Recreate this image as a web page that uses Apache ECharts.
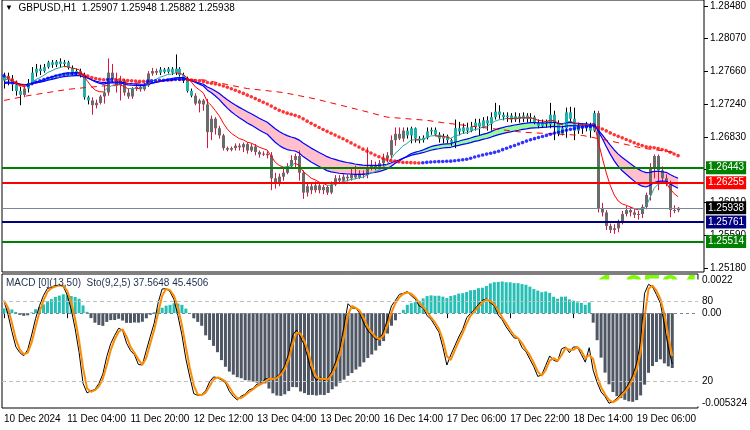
<!DOCTYPE html>
<html>
<head>
<meta charset="utf-8">
<script src="https://cdn.jsdelivr.net/npm/echarts@6/dist/echarts.min.js"></script>
<style>
html, body { margin: 0; padding: 0; background: #fff; }
#chart { width: 750px; height: 430px; }
</style>
</head>
<body>
<div id="chart"></div>
<script>
// GBPUSD H1, 170 bars from 10 Dec 12:00 to 19 Dec 15:00
const tickLabels = ["10 Dec 2024", "11 Dec 04:00", "11 Dec 20:00", "12 Dec 12:00", "13 Dec 04:00", "13 Dec 20:00",
  "16 Dec 14:00", "17 Dec 06:00", "17 Dec 22:00", "18 Dec 14:00", "19 Dec 06:00"];

const openP = [
  1.2754,1.2760,1.2756,1.2749,1.2741,1.2736,1.2744,1.2751,1.2764,1.2769,
  1.2766,1.2771,1.2777,1.2774,1.2778,1.2775,1.2777,1.2770,1.2764,1.2766,
  1.2761,1.2733,1.2729,1.2723,1.2726,1.2734,1.2739,1.2764,1.2756,1.2748,
  1.2754,1.2739,1.2734,1.2744,1.2746,1.2743,1.2748,1.2763,1.2766,1.2764,
  1.2768,1.2765,1.2769,1.2764,1.2769,1.2761,1.2756,1.2741,1.2735,1.2725,
  1.2729,1.2724,1.2689,1.2706,1.2694,1.2685,1.2669,1.2667,1.2669,1.2672,
  1.2670,1.2674,1.2666,1.2671,1.2664,1.2661,1.2662,1.2660,1.2631,1.2626,
  1.2633,1.2638,1.2646,1.2654,1.2659,1.2638,1.2613,1.2621,1.2616,1.2622,
  1.2616,1.2620,1.2613,1.2623,1.2631,1.2628,1.2633,1.2631,1.2636,1.2632,
  1.2637,1.2635,1.2644,1.2647,1.2645,1.2650,1.2656,1.2660,1.2679,1.2687,
  1.2681,1.2691,1.2685,1.2694,1.2681,1.2679,1.2682,1.2690,1.2692,1.2686,
  1.2681,1.2684,1.2679,1.2676,1.2694,1.2690,1.2695,1.2691,1.2696,1.2701,
  1.2696,1.2704,1.2700,1.2708,1.2715,1.2711,1.2708,1.2710,1.2705,1.2709,
  1.2706,1.2710,1.2706,1.2708,1.2701,1.2697,1.2701,1.2699,1.2711,1.2701,
  1.2687,1.2694,1.2714,1.2706,1.2691,1.2697,1.2694,1.2699,1.2691,1.2713,
  1.2593,1.2588,1.2571,1.2566,1.2568,1.2576,1.2586,1.2591,1.2588,1.2585,
  1.2586,1.2595,1.2610,1.2645,1.2659,1.2641,1.2631,1.2626,1.2591,1.25907
];
const highP = [
  1.2764,1.2764,1.2761,1.2754,1.2746,1.2748,1.2756,1.2771,1.2775,1.2774,
  1.2775,1.2779,1.2780,1.2780,1.2782,1.2780,1.2779,1.2773,1.2769,1.2769,
  1.2764,1.2735,1.2733,1.2730,1.2736,1.2748,1.2782,1.2775,1.2764,1.2760,
  1.2756,1.2744,1.2746,1.2750,1.2749,1.2751,1.2766,1.2770,1.2769,1.2771,
  1.2770,1.2771,1.2771,1.2787,1.2771,1.2764,1.2759,1.2744,1.2738,1.2731,
  1.2731,1.2731,1.2710,1.2708,1.2697,1.2687,1.2671,1.2671,1.2675,1.2675,
  1.2676,1.2676,1.2675,1.2674,1.2666,1.2665,1.2665,1.2664,1.2638,1.2637,
  1.2644,1.2650,1.2660,1.2662,1.2666,1.2641,1.2626,1.2625,1.2627,1.2625,
  1.2623,1.2622,1.2627,1.2635,1.2635,1.2636,1.2636,1.2644,1.2647,1.2641,
  1.2641,1.2670,1.2654,1.2652,1.2654,1.2662,1.2664,1.2685,1.2695,1.2695,
  1.2695,1.2695,1.2696,1.2695,1.2684,1.2685,1.2695,1.2695,1.2695,1.2689,
  1.2687,1.2686,1.2681,1.2705,1.2702,1.2700,1.2701,1.2702,1.2706,1.2706,
  1.2708,1.2709,1.2714,1.2726,1.2723,1.2714,1.2714,1.2713,1.2714,1.2713,
  1.2714,1.2713,1.2713,1.2710,1.2705,1.2705,1.2705,1.2726,1.2716,1.2704,
  1.2697,1.2720,1.2721,1.2720,1.2701,1.2700,1.2702,1.2701,1.2716,1.2716,
  1.2600,1.2591,1.2574,1.2573,1.2579,1.2590,1.2596,1.2595,1.2592,1.2590,
  1.2598,1.2613,1.2650,1.2661,1.2661,1.2646,1.2636,1.2628,1.2597,1.25948
];
const lowP = [
  1.2744,1.2748,1.2741,1.2735,1.2723,1.2733,1.2739,1.2749,1.2759,1.2761,
  1.2764,1.2769,1.2770,1.2771,1.2770,1.2771,1.2768,1.2761,1.2760,1.2758,
  1.2730,1.2724,1.2711,1.2719,1.2724,1.2725,1.2735,1.2751,1.2739,1.2729,
  1.2735,1.2731,1.2731,1.2741,1.2740,1.2741,1.2746,1.2760,1.2761,1.2761,
  1.2763,1.2763,1.2761,1.2761,1.2759,1.2751,1.2739,1.2733,1.2723,1.2714,
  1.2716,1.2669,1.2679,1.2686,1.2681,1.2666,1.2665,1.2665,1.2666,1.2666,
  1.2664,1.2662,1.2664,1.2660,1.2657,1.2659,1.2656,1.2616,1.2618,1.2621,
  1.2628,1.2636,1.2644,1.2644,1.2628,1.2605,1.2608,1.2611,1.2613,1.2612,
  1.2611,1.2610,1.2611,1.2621,1.2625,1.2626,1.2627,1.2628,1.2630,1.2630,
  1.2631,1.2631,1.2641,1.2641,1.2642,1.2646,1.2651,1.2656,1.2672,1.2679,
  1.2677,1.2681,1.2675,1.2676,1.2675,1.2676,1.2680,1.2686,1.2684,1.2676,
  1.2675,1.2675,1.2672,1.2669,1.2685,1.2687,1.2687,1.2689,1.2691,1.2685,
  1.2694,1.2691,1.2691,1.2705,1.2706,1.2704,1.2702,1.2701,1.2702,1.2701,
  1.2702,1.2701,1.2702,1.2699,1.2694,1.2695,1.2695,1.2694,1.2679,1.2684,
  1.2685,1.2682,1.2701,1.2679,1.2687,1.2687,1.2690,1.2682,1.2689,1.2588,
  1.2583,1.2566,1.2562,1.2561,1.2563,1.2573,1.2583,1.2583,1.2581,1.2579,
  1.2581,1.2592,1.2603,1.2631,1.2616,1.2626,1.2621,1.2582,1.2587,1.25882
];
const closeP = [
  1.2760,1.2756,1.2749,1.2741,1.2736,1.2744,1.2751,1.2764,1.2769,1.2766,
  1.2771,1.2777,1.2774,1.2778,1.2775,1.2777,1.2770,1.2764,1.2766,1.2761,
  1.2733,1.2729,1.2723,1.2726,1.2734,1.2739,1.2764,1.2756,1.2748,1.2754,
  1.2739,1.2734,1.2744,1.2746,1.2743,1.2748,1.2763,1.2766,1.2764,1.2768,
  1.2765,1.2769,1.2764,1.2769,1.2761,1.2756,1.2741,1.2735,1.2725,1.2729,
  1.2724,1.2689,1.2706,1.2694,1.2685,1.2669,1.2667,1.2669,1.2672,1.2670,
  1.2674,1.2666,1.2671,1.2664,1.2661,1.2662,1.2660,1.2631,1.2626,1.2633,
  1.2638,1.2646,1.2654,1.2659,1.2638,1.2613,1.2621,1.2616,1.2622,1.2616,
  1.2620,1.2613,1.2623,1.2631,1.2628,1.2633,1.2631,1.2636,1.2632,1.2637,
  1.2635,1.2644,1.2647,1.2645,1.2650,1.2656,1.2660,1.2679,1.2687,1.2681,
  1.2691,1.2685,1.2694,1.2681,1.2679,1.2682,1.2690,1.2692,1.2686,1.2681,
  1.2684,1.2679,1.2676,1.2694,1.2690,1.2695,1.2691,1.2696,1.2701,1.2696,
  1.2704,1.2700,1.2708,1.2715,1.2711,1.2708,1.2710,1.2705,1.2709,1.2706,
  1.2710,1.2706,1.2708,1.2701,1.2697,1.2701,1.2699,1.2711,1.2701,1.2687,
  1.2694,1.2714,1.2706,1.2691,1.2697,1.2694,1.2699,1.2691,1.2713,1.2593,
  1.2588,1.2571,1.2566,1.2568,1.2576,1.2586,1.2591,1.2588,1.2585,1.2586,
  1.2595,1.2610,1.2645,1.2659,1.2641,1.2631,1.2626,1.2591,1.2591,1.25938
];

// long dashed MA at these bars
const longMaBars = [0, 6, 16, 20, 33, 45, 50, 56, 61, 70, 78, 90, 96, 106, 110, 130, 145, 152, 160, 169];
const longMaVals = [1.2729, 1.2735, 1.2743, 1.2745, 1.2751, 1.2755, 1.2755, 1.2749, 1.2744, 1.2739,
  1.2731, 1.2716, 1.2708, 1.2704, 1.2701, 1.2689, 1.2685, 1.2678, 1.2669, 1.2663];

// indicator values at bar 0
const seedFast = 1.2754, seedRibA = 1.2751, seedRibB = 1.2750;
const seedMacdFast = 1.2753, seedMacdSlow = 1.2751;

const levelPrices = [1.26443, 1.26255, 1.25761, 1.25514];
const bidPrice = 1.25938;
const priceTicks = [1.28480, 1.28070, 1.27660, 1.27240, 1.26830, 1.26420, 1.26010, 1.25590, 1.25180];
const macdMax = 0.0022, macdMin = -0.005324;
const stochLevels = [20, 80];
const bigText = '1.2594';

const N = closeP.length;
const SLOTS = 176;
const cats = Array.from({ length: SLOTS }, (_, i) => String(i));

function ema(src, n, seed) {
  const k = 2 / (n + 1);
  let v = seed;
  return src.map(x => (v = v + k * (x - v)));
}
function sma(src, n) {
  return src.map((_, i) => {
    const s = src.slice(Math.max(0, i - n + 1), i + 1);
    return s.reduce((a, b) => a + b, 0) / s.length;
  });
}
function stoch(h, l, c, kP, slow, dP) {
  const num = [], den = [];
  for (let i = 0; i < c.length; i++) {
    const a = Math.max(0, i - kP + 1);
    const hh = Math.max(...h.slice(a, i + 1));
    const ll = Math.min(...l.slice(a, i + 1));
    num.push(c[i] - ll); den.push(hh - ll);
  }
  const main = c.map((_, i) => {
    let sn = 0, sd = 0;
    for (let j = Math.max(0, i - slow + 1); j <= i; j++) { sn += num[j]; sd += den[j]; }
    return sd > 0 ? 100 * sn / sd : 50;
  });
  const sig = sma(main, dP);
  return [main, sig];
}
function splitBySlope(v) {
  const up = v.map(() => null), dn = v.map(() => null);
  for (let i = 1; i < v.length; i++) {
    const t = v[i] >= v[i - 1] ? up : dn;
    t[i - 1] = v[i - 1]; t[i] = v[i];
  }
  return [up, dn];
}

const fast = ema(closeP, 8, seedFast);
const ribA = ema(closeP, 21, seedRibA);
const ribB = ema(closeP, 34, seedRibB);
const mid = sma(closeP, 50);
const macdF = ema(closeP, 13, seedMacdFast);
const macdS = ema(closeP, 50, seedMacdSlow);
const hist = macdF.map((v, i) => v - macdS[i]);
const [stMain, stSig] = stoch(highP, lowP, closeP, 9, 5, 2);

const [fastUp, fastDn] = splitBySlope(fast);
const ribBase = ribA.map((v, i) => Math.min(v, ribB[i]));
const ribBull = ribA.map((v, i) => v > ribB[i] ? v - ribB[i] : 0);
const ribBear = ribA.map((v, i) => v < ribB[i] ? ribB[i] - v : 0);
const candles = closeP.map((c, i) => [i, openP[i], c, lowP[i], highP[i], ribA[i] >= ribB[i] ? 1 : 0]);
const longMa = cats.map(() => null);
longMaBars.forEach((b, k) => { longMa[b] = longMaVals[k]; });
const midDots = mid.map((v, i) => ({
  value: [i, v],
  itemStyle: { color: i > 0 && v < mid[i - 1] ? '#ff0000' : '#0000ff' }
}));

const FONT = 'Liberation Sans';
const chart = echarts.init(document.getElementById('chart'));

function level(price, color, width, boxColor) {
  return {
    yAxis: price,
    lineStyle: { color: color, width: width, type: 'solid' },
    label: {
      show: true, position: 'end', distance: 2, formatter: price.toFixed(5),
      color: '#fff', backgroundColor: boxColor || color,
      padding: [2, 2, 1, 2], fontSize: 10, fontFamily: FONT
    }
  };
}

const tickShown = idx => idx % 16 === 0 && idx / 16 < tickLabels.length;

chart.setOption({
  animation: false,
  textStyle: { fontFamily: FONT },
  title: [
    {
      text: '{t|▼}  GBPUSD,H1  1.25907 1.25948 1.25882 1.25938',
      left: 5, top: 3, padding: 0,
      textStyle: { fontSize: 10, fontWeight: 'normal', color: '#000', fontFamily: FONT,
        rich: { t: { fontSize: 8, color: '#000' } } }
    },
    {
      text: 'MACD [0](13,50)  Sto(9,2,5) 37.5648 45.4506',
      left: 6, top: 278, padding: 0,
      textStyle: { fontSize: 10, fontWeight: 'normal', color: '#1f2f4f', fontFamily: FONT }
    }
  ],
  graphic: [
    { type: 'text', x: 597, y: 272, z: 0, silent: true,
      style: { text: bigText, font: 'bold 33px "Liberation Sans"', fill: '#7cfc00', textVerticalAlign: 'top' } },
    { type: 'rect', z: 0, silent: true, shape: { x: 588, y: 279.5, width: 114, height: 127 }, style: { fill: '#fff' } }
  ],
  grid: [
    { left: 2, right: 46, top: -1, height: 273, show: true, borderColor: '#000', borderWidth: 1 },
    { left: 2, right: 46, top: 274, height: 134, show: true, borderColor: '#000', borderWidth: 1 }
  ],
  xAxis: [
    { type: 'category', gridIndex: 0, data: cats, boundaryGap: true, show: false },
    {
      type: 'category', gridIndex: 1, data: cats, boundaryGap: true,
      axisLine: { show: false },
      axisTick: { show: true, alignWithLabel: true, interval: tickShown, length: 5, lineStyle: { color: '#000' } },
      axisLabel: {
        interval: tickShown, align: 'left', margin: 6, fontSize: 10, color: '#000',
        formatter: (v, idx) => tickLabels[idx / 16] || ''
      },
      splitLine: { show: false }
    }
  ],
  yAxis: [
    {
      type: 'value', gridIndex: 0, position: 'right', min: 1.25130, max: 1.28555,
      axisLine: { show: false }, splitLine: { show: false },
      axisTick: { show: true, length: 4, customValues: priceTicks, lineStyle: { color: '#000' } },
      axisLabel: { customValues: priceTicks, formatter: v => v.toFixed(5), margin: 6, fontSize: 10, color: '#000' }
    },
    {
      type: 'value', gridIndex: 1, position: 'right', offset: 0, min: macdMin, max: macdMax,
      axisLine: { show: false }, splitLine: { show: false }, axisTick: { show: false },
      axisLabel: {
        customValues: [macdMax, 0, macdMin], margin: 4, fontSize: 10, color: '#000',
        formatter: v => v === 0 ? '0.00' : (v > 0 ? '{t|' + macdMax + '}' : '{b|' + macdMin + '}'),
        rich: { t: { padding: [13, 0, 0, 0], fontSize: 10 }, b: { padding: [0, 0, 10, 0], fontSize: 10 } }
      }
    },
    {
      type: 'value', gridIndex: 1, position: 'right', offset: 0, min: 0, max: 100,
      axisLine: { show: false }, splitLine: { show: false }, axisTick: { show: false },
      axisLabel: { customValues: stochLevels, margin: 4, fontSize: 10, color: '#000' }
    }
  ],
  series: [
    {
      name: 'ribbonBase', type: 'line', xAxisIndex: 0, yAxisIndex: 0, stack: 'rib', data: ribBase,
      symbol: 'none', lineStyle: { width: 0 }, z: 1, silent: true
    },
    {
      name: 'ribbonBull', type: 'line', xAxisIndex: 0, yAxisIndex: 0, stack: 'rib', data: ribBull,
      symbol: 'none', lineStyle: { width: 0 }, areaStyle: { color: '#98fb98', opacity: 1 }, z: 1, silent: true
    },
    {
      name: 'ribbonBear', type: 'line', xAxisIndex: 0, yAxisIndex: 0, stack: 'rib', data: ribBear,
      symbol: 'none', lineStyle: { width: 0 }, areaStyle: { color: '#ffc0cb', opacity: 1 }, z: 1, silent: true
    },
    {
      name: 'GBPUSD', type: 'custom', xAxisIndex: 0, yAxisIndex: 0, data: candles, z: 2,
      encode: { x: 0, y: [1, 2, 3, 4] },
      renderItem: (params, api) => {
        const i = api.value(0);
        const o = api.coord([i, api.value(1)]);
        const c = api.coord([i, api.value(2)]);
        const l = api.coord([i, api.value(3)]);
        const h = api.coord([i, api.value(4)]);
        const bull = api.value(5) > 0;
        const x = Math.round(o[0]);
        const top = Math.min(o[1], c[1]), bot = Math.max(o[1], c[1]);
        return {
          type: 'group',
          children: [
            { type: 'line', shape: { x1: x + 0.5, y1: h[1], x2: x + 0.5, y2: l[1] },
              style: { stroke: bull ? '#000' : '#dc143c', lineWidth: 1 } },
            { type: 'rect', shape: { x: x - 1, y: top, width: 3, height: Math.max(1, bot - top) },
              style: { fill: bull ? '#20b2aa' : '#6b6b6b' } }
          ]
        };
      }
    },
    { name: 'ema21', type: 'line', data: ribA, symbol: 'none', lineStyle: { color: '#0000ff', width: 1.2 }, z: 3 },
    { name: 'ema34', type: 'line', data: ribB, symbol: 'none', lineStyle: { color: '#0000ff', width: 1.2 }, z: 3 },
    { name: 'fastUp', type: 'line', data: fastUp, symbol: 'none', lineStyle: { color: '#1fa89f', width: 1 }, z: 3 },
    { name: 'fastDn', type: 'line', data: fastDn, symbol: 'none', lineStyle: { color: '#ff0000', width: 1 }, z: 3 },
    {
      name: 'longMa', type: 'line', data: longMa, connectNulls: true, symbol: 'none',
      lineStyle: { color: '#ff0000', width: 1, type: [6, 5] }, z: 3
    },
    { name: 'ma50', type: 'scatter', data: midDots, symbol: 'circle', symbolSize: 3.6, z: 4 },
    {
      name: 'levels', type: 'line', data: closeP, z: 5, symbol: 'none', silent: true,
      lineStyle: { opacity: 0, width: 0 },
      markLine: {
        symbol: 'none', silent: true, animation: false, precision: 5,
        data: [
          level(levelPrices[0], '#008000', 2),
          level(levelPrices[1], '#ff0000', 2),
          level(bidPrice, '#778899', 1, '#000'),
          level(levelPrices[2], '#000080', 2),
          level(levelPrices[3], '#008000', 2)
        ]
      }
    },
    {
      name: 'MACD', type: 'bar', xAxisIndex: 1, yAxisIndex: 1, data: hist, barWidth: 3, z: 2,
      itemStyle: { color: p => p.value >= 0 ? '#26bfb5' : '#4e5763' },
      markLine: {
        symbol: 'none', silent: true, label: { show: false },
        lineStyle: { color: '#7a8799', type: [3, 3], width: 1 },
        data: [{ yAxis: 0 }]
      }
    },
    {
      name: 'StochMain', type: 'line', xAxisIndex: 1, yAxisIndex: 2, data: stMain, symbol: 'none',
      lineStyle: { color: '#000', width: 1 }, z: 3,
      markLine: {
        symbol: 'none', silent: true, label: { show: false },
        lineStyle: { color: '#c0c0c0', type: [4, 3], width: 1 },
        data: stochLevels.map(v => ({ yAxis: v }))
      }
    },
    {
      name: 'StochSignal', type: 'line', xAxisIndex: 1, yAxisIndex: 2, data: stSig, symbol: 'none',
      lineStyle: { color: '#ff8c00', width: 2 }, z: 4
    }
  ]
});
</script>
</body>
</html>
